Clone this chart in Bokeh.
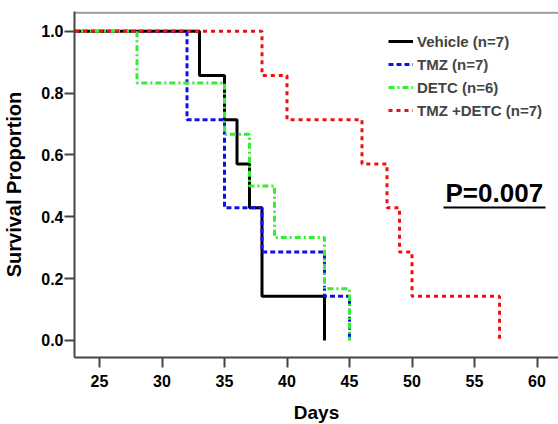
from bokeh.plotting import figure
from bokeh.models import Range1d, Legend, LegendItem, FixedTicker
from bokeh.embed import file_html
from bokeh.resources import INLINE
from bokeh.core.properties import value

# ---- data ----
vehicle_days = [0, 33, 35, 36, 37, 38, 43]
vehicle_surv = [1.0, 0.857, 0.714, 0.571, 0.429, 0.143, 0.0]

tmz_days = [0, 32, 35, 38, 43, 45]
tmz_surv = [1.0, 0.714, 0.429, 0.286, 0.143, 0.0]

detc_days = [0, 28, 35, 37, 39, 43, 45]
detc_surv = [1.0, 0.833, 0.667, 0.5, 0.333, 0.167, 0.0]

combo_days = [0, 38, 40, 46, 48, 49, 50, 57]
combo_surv = [1.0, 0.857, 0.714, 0.571, 0.429, 0.286, 0.143, 0.0]

labels = ["Vehicle (n=7)", "TMZ (n=7)", "DETC (n=6)", "TMZ +DETC (n=7)"]
x_ticks = [25, 30, 35, 40, 45, 50, 55, 60]
y_ticks = [0.0, 0.2, 0.4, 0.6, 0.8, 1.0]
p_value_text = "P=0.007"

FONT = "Liberation Sans"

xr = Range1d(23, 61.72)
yr = Range1d(-0.055, 1.064)
p = figure(frame_width=484, frame_height=346, output_backend="svg", toolbar_location=None,
           x_range=xr, y_range=yr,
           min_border_left=74, min_border_right=0, min_border_top=11, min_border_bottom=67)
p.outline_line_color = None
p.grid.visible = False
p.background_fill_color = "white"
p.border_fill_color = "white"

bottom_axis = p.below[0]
left_axis = p.left[0]

# top border of the frame
p.segment(x0=[xr.start], x1=[xr.end], y0=[yr.end - 0.004], y1=[yr.end - 0.004],
          line_color="#999999", line_width=2)

r1 = p.step(vehicle_days, vehicle_surv, mode="after", line_color="black", line_width=3)
r2 = p.step(tmz_days, tmz_surv, mode="after", line_color="#1010ee", line_width=3, line_dash="5 3")
r3 = p.step(detc_days, detc_surv, mode="after", line_color="#33ee33", line_width=3, line_dash="6 3 2 3")
r4 = p.step(combo_days, combo_surv, mode="after", line_color="#ee1111", line_width=3, line_dash="4 4")

for ax in (bottom_axis, left_axis):
    ax.axis_line_width = 2
    ax.axis_line_color = "#444444"
    ax.major_tick_line_width = 2
    ax.major_tick_line_color = "#444444"
    ax.major_tick_out = 10
    ax.major_tick_in = 0
    ax.minor_tick_out = 0
    ax.minor_tick_in = 0
    ax.major_label_text_font = FONT
    ax.major_label_text_font_style = "bold"
    ax.major_label_text_font_size = "16px"
    ax.major_label_text_color = "black"
    ax.axis_label_text_font = FONT
    ax.axis_label_text_font_style = "bold"
    ax.axis_label_text_color = "black"

bottom_axis.ticker = FixedTicker(ticks=x_ticks)
left_axis.ticker = FixedTicker(ticks=y_ticks)
left_axis.major_label_overrides = {t: f"{t:.1f}" for t in y_ticks}
bottom_axis.axis_label = "Days"
bottom_axis.axis_label_text_font_size = "19px"
bottom_axis.axis_label_standoff = 12
bottom_axis.major_label_standoff = 7
left_axis.axis_label = "Survival Proportion"
left_axis.axis_label_text_font_size = "20px"
left_axis.axis_label_standoff = 13
left_axis.major_label_standoff = 1

legend = Legend(items=[LegendItem(label=l, renderers=[r]) for l, r in zip(labels, [r1, r2, r3, r4])],
                location=(314, 237))
legend.label_text_font = FONT
legend.label_text_font_style = "bold"
legend.label_text_font_size = "15px"
legend.label_standoff = 4
legend.glyph_width = 25
legend.glyph_height = 20
legend.label_height = 20
legend.spacing = 3
legend.padding = 0
legend.margin = 0
legend.border_line_color = None
legend.background_fill_alpha = 0
p.add_layout(legend)

# P value annotation with underline
p_x, p_y = 52.68, 0.478
p.text(x=[p_x], y=[p_y], text=[p_value_text], text_font=value(FONT), text_font_style="bold",
       text_font_size="26px", text_align="left", text_baseline="alphabetic", text_color="black")
p.segment(x0=[p_x - 0.16], y0=[p_y - 0.048], x1=[p_x + 8.0], y1=[p_y - 0.048],
          line_color="black", line_width=2)

open("out.html", "w").write(file_html(p, INLINE))
